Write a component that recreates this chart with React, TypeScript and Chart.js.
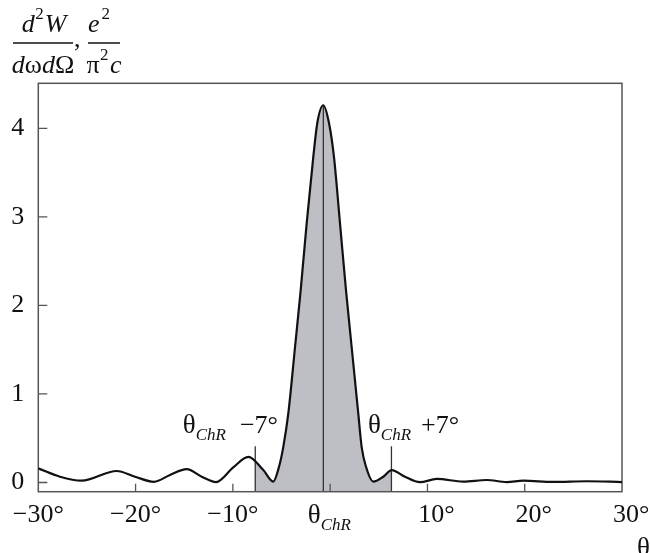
import React, { useEffect, useRef } from "react";
import { Chart, registerables } from "chart.js";

Chart.register(...registerables);

// ---- data ----
const thetaValues = [
  -30, -27.77, -25.54, -21.94, -20.06, -18.11, -16.46, -14.75, -13.2, -11.73,
  -9.96, -8.41, -6.87, -5.85, -5.25, -4.82, -4.3, -3.61, -3.03, -2.41, -1.73,
  -1.32, -0.71, -0.12, 0.39, 1.01, 1.63, 2.21, 2.89, 3.24, 3.68, 4.43, 5.46,
  6.32, 7.69, 9.23, 10.95, 13.69, 16.09, 18.15, 19.86, 22.94, 26.37, 30,
];
const intensityValues = [
  0.16, 0.065, 0.02, 0.13, 0.065, 0.008, 0.085, 0.15, 0.065, 0.005,
  0.17, 0.29, 0.14, 0.01, 0.18, 0.4, 0.78, 1.53, 2.17, 2.93, 3.68,
  4.06, 4.26, 4.06, 3.68, 2.93, 2.17, 1.53, 0.78, 0.4, 0.18, 0.01, 0.065,
  0.14, 0.065, 0.003, 0.04, 0.01, 0.028, 0.005, 0.02, 0.006, 0.014, 0.005,
];
const xTickValues = [-30, -20, -10, 10, 20, 30];
const xTickLabels = ["\u221230°", "\u221220°", "\u221210°", "\u2002\u200910°", "\u2002\u200920°", "\u2002\u200930°"];
const xTickMarks = [-20, -10, 0, 10, 20];
const yTickValues = [0, 1, 2, 3, 4];
const yTickLabels = ["0", "1", "2", "3", "4"];
const thetaChR = -0.7;
const sideOffset = 7;
const sideMarkerHeight = 0.41;
const xMin = -30;
const xMax = 30;
const yMin = -0.104;
const yMax = 4.508;

const FAMILY = '"Liberation Serif", "Times New Roman", serif';
const TEXT = "#111";

type Run = { t: string; font: string; dy?: number; gap?: number };

function runsWidth(ctx: CanvasRenderingContext2D, runs: Run[]) {
  let w = 0;
  for (const r of runs) {
    ctx.font = r.font;
    w += ctx.measureText(r.t).width + (r.gap || 0);
  }
  return w;
}

function drawRuns(ctx: CanvasRenderingContext2D, x: number, y: number, runs: Run[]) {
  ctx.textAlign = "left";
  ctx.textBaseline = "alphabetic";
  for (const r of runs) {
    ctx.font = r.font;
    ctx.fillText(r.t, x, y + (r.dy || 0));
    x += ctx.measureText(r.t).width + (r.gap || 0);
  }
}

const up = (s: number) => `${s}px ${FAMILY}`;
const it = (s: number) => `italic ${s}px ${FAMILY}`;

const decorPlugin = {
  id: "decor",
  beforeDatasetsDraw(chart: any) {
    const { ctx, chartArea: a, scales } = chart;
    const xs = scales.x;
    const ys = scales.y;
    const meta = chart.getDatasetMeta(0);
    const pts = meta.data as any[];

    // shaded region between thetaChR-7 and thetaChR+7
    const xl = xs.getPixelForValue(thetaChR - sideOffset);
    const xr = xs.getPixelForValue(thetaChR + sideOffset);
    ctx.save();
    ctx.beginPath();
    ctx.rect(xl, a.top, xr - xl, a.bottom - a.top);
    ctx.clip();
    ctx.beginPath();
    ctx.moveTo(pts[0].x, pts[0].y);
    for (let i = 1; i < pts.length; i++) {
      const p = pts[i - 1];
      const q = pts[i];
      if (p.cp2x !== undefined && q.cp1x !== undefined) {
        ctx.bezierCurveTo(p.cp2x, p.cp2y, q.cp1x, q.cp1y, q.x, q.y);
      } else {
        ctx.lineTo(q.x, q.y);
      }
    }
    ctx.lineTo(pts[pts.length - 1].x, a.bottom);
    ctx.lineTo(pts[0].x, a.bottom);
    ctx.closePath();
    ctx.fillStyle = "#bebfc4";
    ctx.fill();
    ctx.restore();

    // marker lines
    const peak = Math.max(...intensityValues);
    ctx.save();
    ctx.strokeStyle = "#333";
    ctx.lineWidth = 1.3;
    ctx.beginPath();
    const xc = xs.getPixelForValue(thetaChR);
    ctx.moveTo(xc, a.bottom);
    ctx.lineTo(xc, ys.getPixelForValue(peak));
    ctx.moveTo(xl, a.bottom);
    ctx.lineTo(xl, ys.getPixelForValue(sideMarkerHeight));
    ctx.moveTo(xr, a.bottom);
    ctx.lineTo(xr, ys.getPixelForValue(sideMarkerHeight));
    ctx.stroke();

    // frame
    ctx.strokeStyle = "#555";
    ctx.lineWidth = 1.5;
    ctx.strokeRect(a.left, a.top, a.right - a.left, a.bottom - a.top);

    // inward ticks
    ctx.lineWidth = 1.3;
    ctx.beginPath();
    for (const v of yTickValues) {
      const y = ys.getPixelForValue(v);
      ctx.moveTo(a.left, y);
      ctx.lineTo(a.left + 9, y);
    }
    for (const v of xTickMarks) {
      const x = xs.getPixelForValue(v);
      ctx.moveTo(x, a.bottom);
      ctx.lineTo(x, a.bottom - 8);
    }
    ctx.stroke();
    ctx.restore();
  },
  afterDatasetsDraw(chart: any) {
    const { ctx, scales } = chart;
    const xs = scales.x;
    const ys = scales.y;
    ctx.save();
    ctx.fillStyle = TEXT;

    // annotations
    const annY = ys.getPixelForValue(0.56);
    const xl = xs.getPixelForValue(thetaChR - sideOffset);
    const xr = xs.getPixelForValue(thetaChR + sideOffset);
    drawRuns(ctx, xl - 72.5, annY, [
      { t: "θ", font: up(27) },
      { t: "ChR", font: it(17), dy: 7, gap: 14 },
      { t: "\u22127°", font: up(26) },
    ]);
    drawRuns(ctx, xr - 23.5, annY, [
      { t: "θ", font: up(27) },
      { t: "ChR", font: it(17), dy: 7, gap: 10 },
      { t: "+7°", font: up(26) },
    ]);

    // θChR label on x axis
    drawRuns(ctx, xs.getPixelForValue(thetaChR) - 15.5, 523, [
      { t: "θ", font: up(27) },
      { t: "ChR", font: it(17), dy: 7 },
    ]);
    // axis title θ
    drawRuns(ctx, 637, 556, [{ t: "θ", font: up(27) }]);

    // title fraction
    const num1: Run[] = [
      { t: "d", font: it(26), gap: 0.5 },
      { t: "2", font: up(17), dy: -13, gap: 1 },
      { t: "W", font: it(26) },
    ];
    const den1: Run[] = [
      { t: "d", font: it(26) },
      { t: "ω", font: up(26) },
      { t: "d", font: it(26) },
      { t: "Ω", font: up(26) },
    ];
    const num2: Run[] = [
      { t: "e", font: it(26), gap: 2 },
      { t: "2", font: up(17), dy: -13 },
    ];
    const den2: Run[] = [
      { t: "π", font: up(26), gap: 0.5 },
      { t: "2", font: up(17), dy: -13, gap: 1.5 },
      { t: "c", font: it(26) },
    ];
    drawRuns(ctx, 44 - runsWidth(ctx, num1) / 2, 31.5, num1);
    drawRuns(ctx, 43 - runsWidth(ctx, den1) / 2, 73, den1);
    drawRuns(ctx, 74, 47, [{ t: ",", font: up(26) }]);
    drawRuns(ctx, 88, 31.5, num2);
    drawRuns(ctx, 104 - runsWidth(ctx, den2) / 2, 73, den2);
    ctx.strokeStyle = TEXT;
    ctx.lineWidth = 1.3;
    ctx.beginPath();
    ctx.moveTo(13, 43);
    ctx.lineTo(73, 43);
    ctx.moveTo(88, 43);
    ctx.lineTo(120, 43);
    ctx.stroke();
    ctx.restore();
  },
};

export default function App() {
  const ref = useRef<HTMLCanvasElement | null>(null);
  useEffect(() => {
    if (!ref.current) return;
    const data = thetaValues.map((x, i) => ({ x, y: intensityValues[i] }));
    const chart = new Chart(ref.current, {
      type: "line",
      data: {
        datasets: [
          {
            data,
            borderColor: "#111",
            borderWidth: 2.2,
            pointRadius: 0,
            fill: false,
            cubicInterpolationMode: "monotone",
          } as any,
        ],
      },
      options: {
        animation: false,
        responsive: false,
        devicePixelRatio: 1,
        layout: { padding: { top: 83.3, right: 28, left: 0, bottom: 0 } },
        plugins: { legend: { display: false }, tooltip: { enabled: false } },
        scales: {
          x: {
            type: "linear",
            min: xMin,
            max: xMax,
            afterBuildTicks: (s: any) => {
              s.ticks = xTickValues.map((v) => ({ value: v }));
            },
            afterFit: (s: any) => {
              s.height = 61.3;
              s.paddingLeft = 0;
              s.paddingRight = 0;
            },
            ticks: {
              autoSkip: false,
              maxRotation: 0,
              padding: 8,
              color: TEXT,
              font: { family: FAMILY, size: 26 },
              callback: (v: any) => xTickLabels[xTickValues.indexOf(Number(v))] ?? "",
            },
            grid: { display: false, drawTicks: false },
            border: { display: false },
          },
          y: {
            type: "linear",
            min: yMin,
            max: yMax,
            afterBuildTicks: (s: any) => {
              s.ticks = yTickValues.map((v) => ({ value: v }));
            },
            afterFit: (s: any) => {
              s.width = 38.3;
              s.paddingTop = 0;
              s.paddingBottom = 0;
            },
            ticks: {
              autoSkip: false,
              padding: 14,
              color: TEXT,
              font: { family: FAMILY, size: 26 },
              callback: (v: any) => yTickLabels[yTickValues.indexOf(Number(v))] ?? "",
            },
            grid: { display: false, drawTicks: false },
            border: { display: false },
          },
        },
      },
      plugins: [decorPlugin],
    });
    return () => chart.destroy();
  }, []);
  return (
    <div style={{ position: "absolute", left: 0, top: 0, width: 650, height: 553, background: "#fff" }}>
      <canvas ref={ref} width={650} height={553} style={{ display: "block" }} />
    </div>
  );
}
